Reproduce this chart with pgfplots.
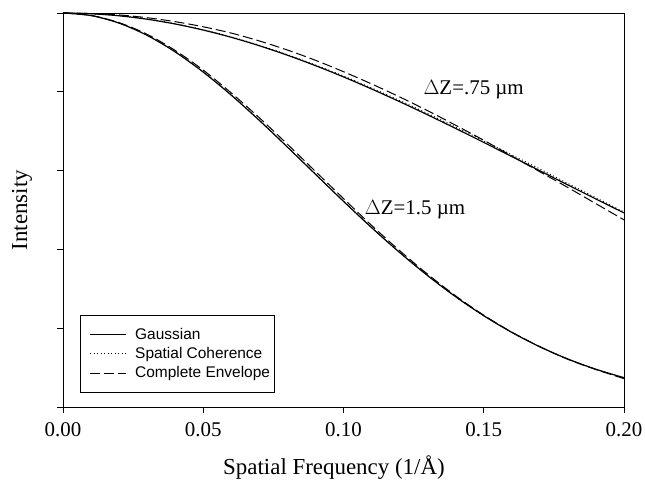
\documentclass[border=0pt]{standalone}
\usepackage{fontspec}
\setmainfont{Liberation Serif}
\newfontfamily\legendfont{Liberation Sans}
\usepackage{pgfplots}
\pgfplotsset{compat=1.18}
\usepackage{pgfplotstable}

% x, narrow Gaussian (dZ=1.5), narrow spatial coherence, narrow complete envelope,
% wide Gaussian (dZ=.75), wide spatial coherence, wide complete envelope
\pgfplotstableread{
x     ng      ns      ne      wg      ws      we
0.00  1.0000  1.0000  1.0000  1.0000  1.0000  1.0000
0.01  0.9935  0.9936  0.9938  0.9982  0.9983  0.9985
0.02  0.9743  0.9746  0.9755  0.9929  0.9931  0.9950
0.03  0.9432  0.9437  0.9460  0.9842  0.9846  0.9880
0.04  0.9012  0.9018  0.9050  0.9721  0.9727  0.9780
0.05  0.8500  0.8507  0.8550  0.9567  0.9575  0.9650
0.06  0.7914  0.7921  0.7970  0.9383  0.9393  0.9490
0.07  0.7273  0.7280  0.7340  0.9169  0.9181  0.9290
0.08  0.6597  0.6604  0.6670  0.8929  0.8944  0.9060
0.09  0.5907  0.5914  0.5980  0.8664  0.8681  0.8800
0.10  0.5220  0.5226  0.5290  0.8378  0.8400  0.8510
0.11  0.4554  0.4559  0.4610  0.8072  0.8098  0.8200
0.12  0.3922  0.3926  0.3970  0.7750  0.7780  0.7870
0.13  0.3334  0.3337  0.3370  0.7415  0.7448  0.7520
0.14  0.2797  0.2799  0.2820  0.7069  0.7105  0.7150
0.15  0.2317  0.2318  0.2330  0.6715  0.6755  0.6770
0.16  0.1894  0.1895  0.1900  0.6356  0.6400  0.6370
0.17  0.1528  0.1528  0.1530  0.5996  0.6040  0.5970
0.18  0.1217  0.1217  0.1210  0.5635  0.5675  0.5570
0.19  0.0957  0.0957  0.0950  0.5278  0.5310  0.5160
0.20  0.0743  0.0743  0.0720  0.4926  0.4950  0.4750
}\datatable

\begin{document}
\begin{tikzpicture}
\begin{axis}[
  scale only axis,
  width=561bp, height=394bp,
  xmin=0, xmax=0.2, ymin=0, ymax=1,
  axis x line*=bottom, axis y line*=left,
  xtick={0,0.05,0.1,0.15,0.2},
  ytick={0,0.2,0.4,0.6,0.8,1},
  yticklabels={},
  tick align=outside,
  major tick length=6bp,
  tick style={black, line width=0.8bp},
  axis line style={black, line width=0.8bp},
  xticklabel={\pgfmathprintnumber[fixed,fixed zerofill,precision=2]{\tick}},
  /pgf/number format/assume math mode=true,
  ticklabel style={font=\fontsize{21}{25}\selectfont},
  xticklabel style={yshift=-6bp},
  xlabel={Spatial Frequency (1/Å)},
  ylabel={Intensity},
  label style={font=\fontsize{23}{27}\selectfont},
  xlabel style={at={(axis description cs:0.483,-0.155)}, anchor=center},
  ylabel style={at={(axis description cs:-0.073,0.5)}, anchor=center},
  legend style={
    at={(axis description cs:0.030,0.2335)}, anchor=north west,
    draw=black, line width=0.8bp,
    font=\legendfont\fontsize{15.5}{19}\selectfont,
    inner xsep=2bp, inner ysep=11bp,
    row sep=2.5bp,
    cells={anchor=west},
  },
  legend cell align=left,
  legend image code/.code={\draw[#1] (0bp,0bp) -- (36bp,0bp);\path[draw=none] (-8bp,0bp) (43bp,0bp);},
  clip=false,
]
\addplot[black, line width=1.2bp, smooth] table[x=x,y=ng]{\datatable};
\addlegendentry{Gaussian}
\addplot[black, line width=0.9bp, smooth, dash pattern=on 1bp off 2.5bp] table[x=x,y=ns]{\datatable};
\addlegendentry{Spatial Coherence}
\addplot[black, line width=1.0bp, smooth, dash pattern=on 10bp off 4bp] table[x=x,y=ne]{\datatable};
\addlegendentry{Complete Envelope}
\addplot[black, line width=1.2bp, smooth, forget plot] table[x=x,y=wg]{\datatable};
\addplot[black, line width=0.9bp, smooth, dash pattern=on 1bp off 2.5bp, forget plot] table[x=x,y=ws]{\datatable};
\addplot[black, line width=1.0bp, smooth, dash pattern=on 10bp off 4bp, forget plot] table[x=x,y=we]{\datatable};
\draw[black, line width=0.8bp] (rel axis cs:0,1) -- (rel axis cs:1,1) -- (rel axis cs:1,0);
\node[font=\fontsize{21}{25}\selectfont, anchor=center] at (axis cs:0.1464,0.8045) {$\Delta$Z=.75 µm};
\node[font=\fontsize{21}{25}\selectfont, anchor=center] at (axis cs:0.1255,0.5){$\Delta$Z=1.5 µm};
\coordinate (ll) at (rel axis cs:0,0);
\coordinate (ur) at (rel axis cs:1,1);
\end{axis}
\pgfresetboundingbox
\path (ll) ++(-63bp,-83bp) coordinate (bba);
\path (ur) ++(21bp,13bp) coordinate (bbb);
\path[use as bounding box] (bba) rectangle (bbb);
\end{tikzpicture}
\end{document}
